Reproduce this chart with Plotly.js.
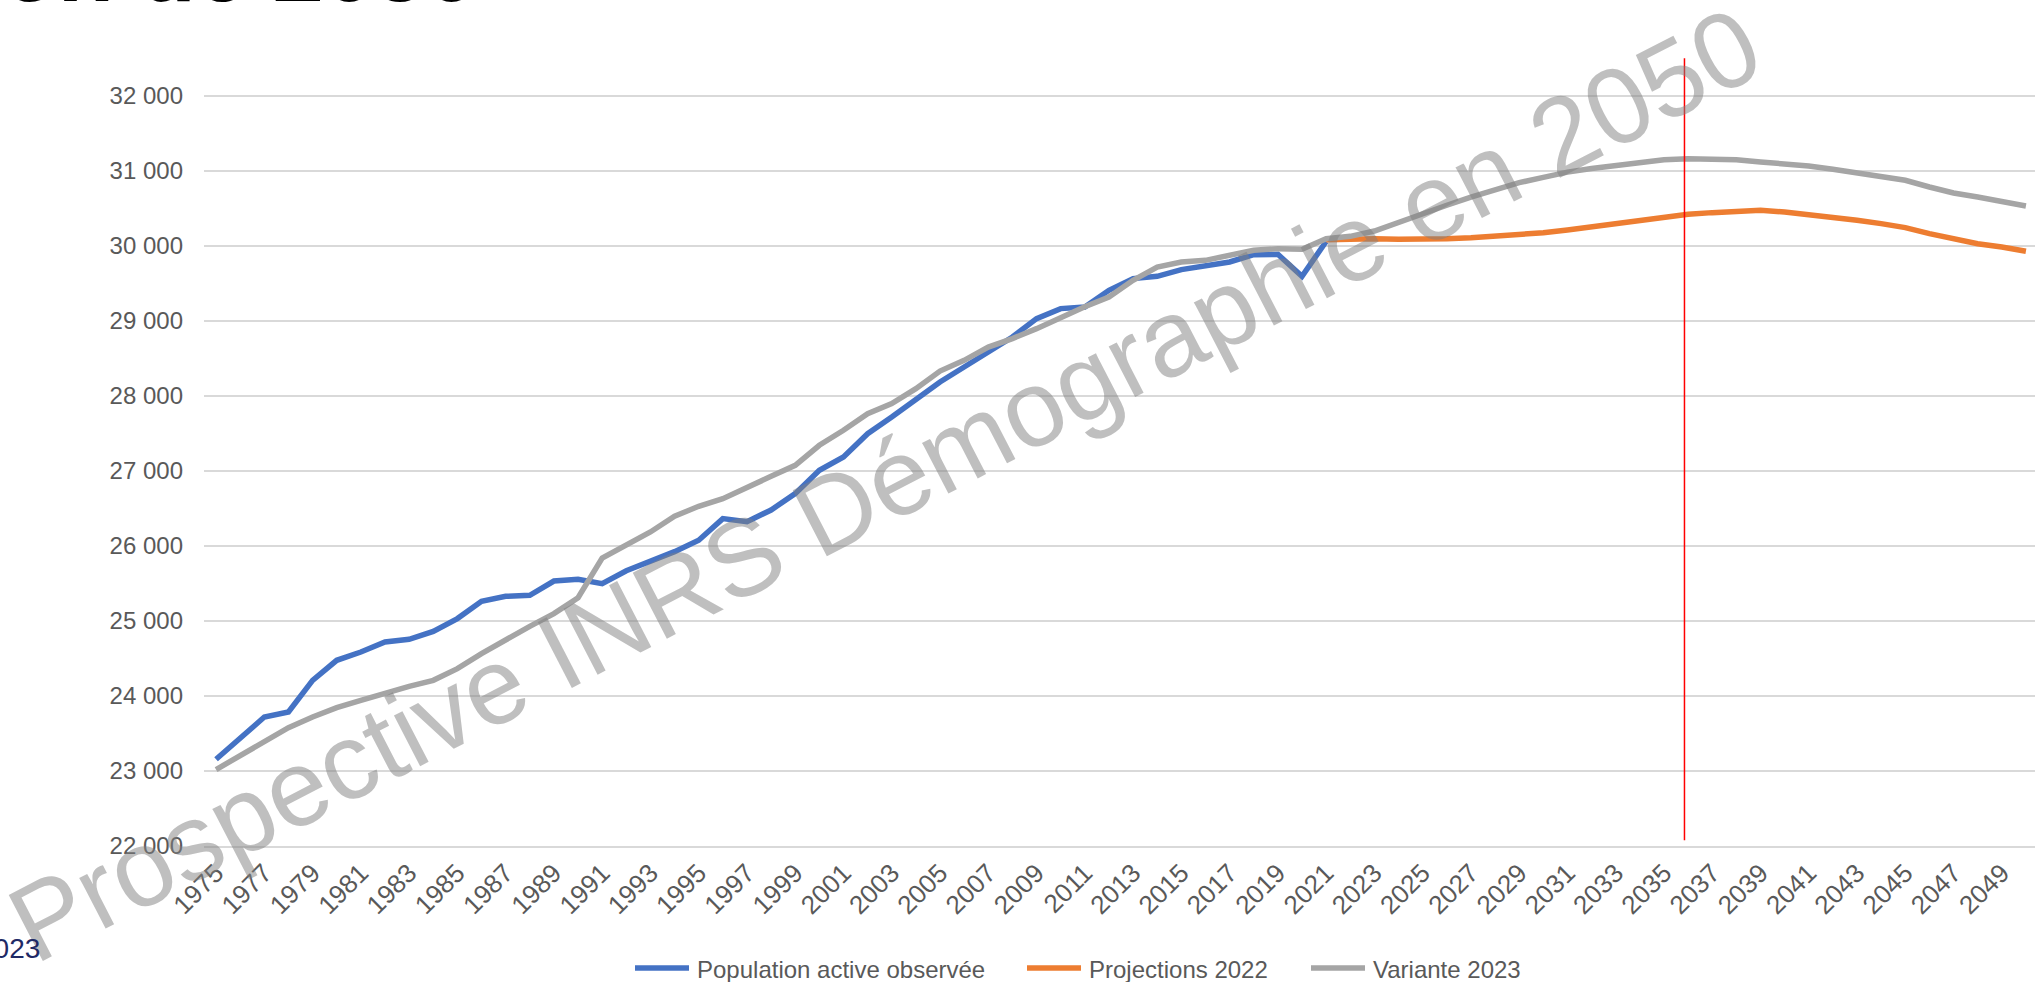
<!DOCTYPE html>
<html>
<head>
<meta charset="utf-8">
<script src="https://cdn.plot.ly/plotly-3.0.1.min.js"></script>
<style>
html,body{margin:0;padding:0;background:#fff;overflow:hidden;width:2035px;height:982px;}
#chart{width:2038px;height:982px;}
</style>
</head>
<body>
<div id="chart"></div>
<script>
// ---- Data ----
const yearsObserved = [1975,1976,1977,1978,1979,1980,1981,1982,1983,1984,1985,1986,1987,1988,1989,1990,1991,1992,1993,1994,1995,1996,1997,1998,1999,2000,2001,2002,2003,2004,2005,2006,2007,2008,2009,2010,2011,2012,2013,2014,2015,2016,2017,2018,2019,2020,2021];
const populationActiveObservee = [23156,23445,23720,23787,24209,24476,24587,24720,24756,24862,25032,25263,25329,25343,25533,25556,25498,25670,25800,25925,26076,26365,26325,26480,26698,27009,27187,27498,27720,27965,28187,28387,28587,28787,29032,29165,29187,29409,29565,29596,29685,29729,29787,29885,29889,29596,30060];

const yearsProjection = [2021,2022,2023,2024,2025,2026,2027,2028,2029,2030,2031,2032,2033,2034,2035,2036,2037,2038,2039,2040,2041,2042,2043,2044,2045,2046,2047,2048,2049,2050];
const projections2022 = [30085,30098,30098,30089,30085,30098,30111,30129,30147,30176,30213,30253,30289,30333,30387,30422,30445,30462,30476,30453,30422,30387,30343,30298,30245,30165,30089,30031,29987,29929];

const yearsAll = [1975,1976,1977,1978,1979,1980,1981,1982,1983,1984,1985,1986,1987,1988,1989,1990,1991,1992,1993,1994,1995,1996,1997,1998,1999,2000,2001,2002,2003,2004,2005,2006,2007,2008,2009,2010,2011,2012,2013,2014,2015,2016,2017,2018,2019,2020,2021,2022,2023,2024,2025,2026,2027,2028,2029,2030,2031,2032,2033,2034,2035,2036,2037,2038,2039,2040,2041,2042,2043,2044,2045,2046,2047,2048,2049,2050];
const variante2023 = [23019,23209,23409,23578,23720,23845,23943,24040,24129,24209,24365,24565,24752,24929,25098,25311,25840,26009,26187,26396,26529,26631,26787,26929,27076,27343,27543,27765,27898,28098,28333,28476,28653,28765,28898,29053,29190,29320,29543,29720,29787,29809,29876,29943,29965,29956,30098,30129,30200,30320,30431,30543,30653,30751,30845,30915,30985,31032,31076,31120,31151,31165,31165,31151,31120,31098,31067,31023,30973,30929,30876,30787,30707,30653,30600,30533];

const xTickVals = [1975,1977,1979,1981,1983,1985,1987,1989,1991,1993,1995,1997,1999,2001,2003,2005,2007,2009,2011,2013,2015,2017,2019,2021,2023,2025,2027,2029,2031,2033,2035,2037,2039,2041,2043,2045,2047,2049];
const xTickText = ["1975","1977","1979","1981","1983","1985","1987","1989","1991","1993","1995","1997","1999","2001","2003","2005","2007","2009","2011","2013","2015","2017","2019","2021","2023","2025","2027","2029","2031","2033","2035","2037","2039","2041","2043","2045","2047","2049"];
const yTickVals = [22000,23000,24000,25000,26000,27000,28000,29000,30000,31000,32000];
const yTickText = ["22 000","23 000","24 000","25 000","26 000","27 000","28 000","29 000","30 000","31 000","32 000"];

const seriesNames = ["Population active observée","Projections 2022","Variante 2023"];
const seriesColors = ["#4472C4","#ED7D31","#A5A5A5"];
const markerYear = 2035.85;

// ---- Layout helpers (pixel -> paper) ----
const L = 204, T = 51, PW = 1834, PH = 795;
const px = x => (x - L) / PW;
const py = y => (T + PH - y) / PH;

const FONT = "Liberation Sans, Arial, Helvetica, sans-serif";

const traces = [
  {x: yearsObserved, y: populationActiveObservee, name: seriesNames[0], type: "scatter", mode: "lines",
   line: {color: seriesColors[0], width: 5.5}},
  {x: yearsProjection, y: projections2022, name: seriesNames[1], type: "scatter", mode: "lines",
   line: {color: seriesColors[1], width: 5.5}},
  {x: yearsAll, y: variante2023, name: seriesNames[2], type: "scatter", mode: "lines",
   line: {color: seriesColors[2], width: 5.5}}
];

// Legend drawn as shapes + annotations (Excel-like spacing)
const legendSampleX = [635, 1027, 1311];
const legendY = 968;
const legendShapes = legendSampleX.map((x0, i) => ({
  type: "line", xref: "paper", yref: "paper", x0: px(x0), x1: px(x0 + 54), y0: py(legendY), y1: py(legendY),
  line: {color: seriesColors[i], width: 5.5}
}));
const legendTexts = legendSampleX.map((x0, i) => ({
  text: seriesNames[i], xref: "paper", yref: "paper", x: px(x0 + 60), y: py(legendY + 1),
  xanchor: "left", yanchor: "middle", showarrow: false,
  font: {family: FONT, size: 24, color: "#595959"}
}));

const layout = {
  width: 2038, height: 982, autosize: false,
  margin: {l: L, r: 0, t: T, b: 982 - T - PH, pad: 0},
  paper_bgcolor: "#ffffff", plot_bgcolor: "#ffffff",
  font: {family: FONT, color: "#595959", size: 24},
  showlegend: false,
  xaxis: {type: "linear", range: [1974.5, 2050.5], tickmode: "array", tickvals: xTickVals, ticktext: xTickText,
          tickangle: -45, showgrid: false, zeroline: false, showline: true, linecolor: "#D9D9D9", linewidth: 1.5,
          ticks: "", automargin: false, tickfont: {family: FONT, size: 26, color: "#595959"}, fixedrange: true},
  yaxis: {range: [22000, 32600], tickmode: "array", tickvals: yTickVals, ticktext: yTickText,
          showgrid: true, gridcolor: "#D9D9D9", gridwidth: 1.5, zeroline: false, showline: false, automargin: false,
          ticks: "", ticklabelstandoff: 20, tickfont: {family: FONT, size: 24, color: "#595959"}, fixedrange: true},
  shapes: [
    {type: "line", xref: "x", yref: "y", x0: markerYear, x1: markerYear, y0: 22076, y1: 32503,
     line: {color: "#FF0000", width: 1.5}, layer: "above"}
  ].concat(legendShapes),
  annotations: [
    {text: "Prospective INRS Démographie en 2050", xref: "paper", yref: "paper", x: px(884), y: py(484),
     xanchor: "center", yanchor: "middle", showarrow: false, textangle: -27.3,
     font: {family: FONT, size: 108, color: "rgba(127,127,127,0.5)"}},
    {text: "<b>Projection de la population active à l'horizon de 2050</b>", xref: "paper", yref: "paper",
     x: px(479), y: py(22), xanchor: "right", yanchor: "bottom", showarrow: false,
     font: {family: FONT, size: 92, color: "#000000"}},
    {text: "2023", xref: "paper", yref: "paper", x: px(42), y: py(948), xanchor: "right", yanchor: "middle",
     showarrow: false, font: {family: FONT, size: 28, color: "#1F2A66"}}
  ].concat(legendTexts)
};

Plotly.newPlot("chart", traces, layout, {staticPlot: true, displayModeBar: false});
</script>
</body>
</html>
